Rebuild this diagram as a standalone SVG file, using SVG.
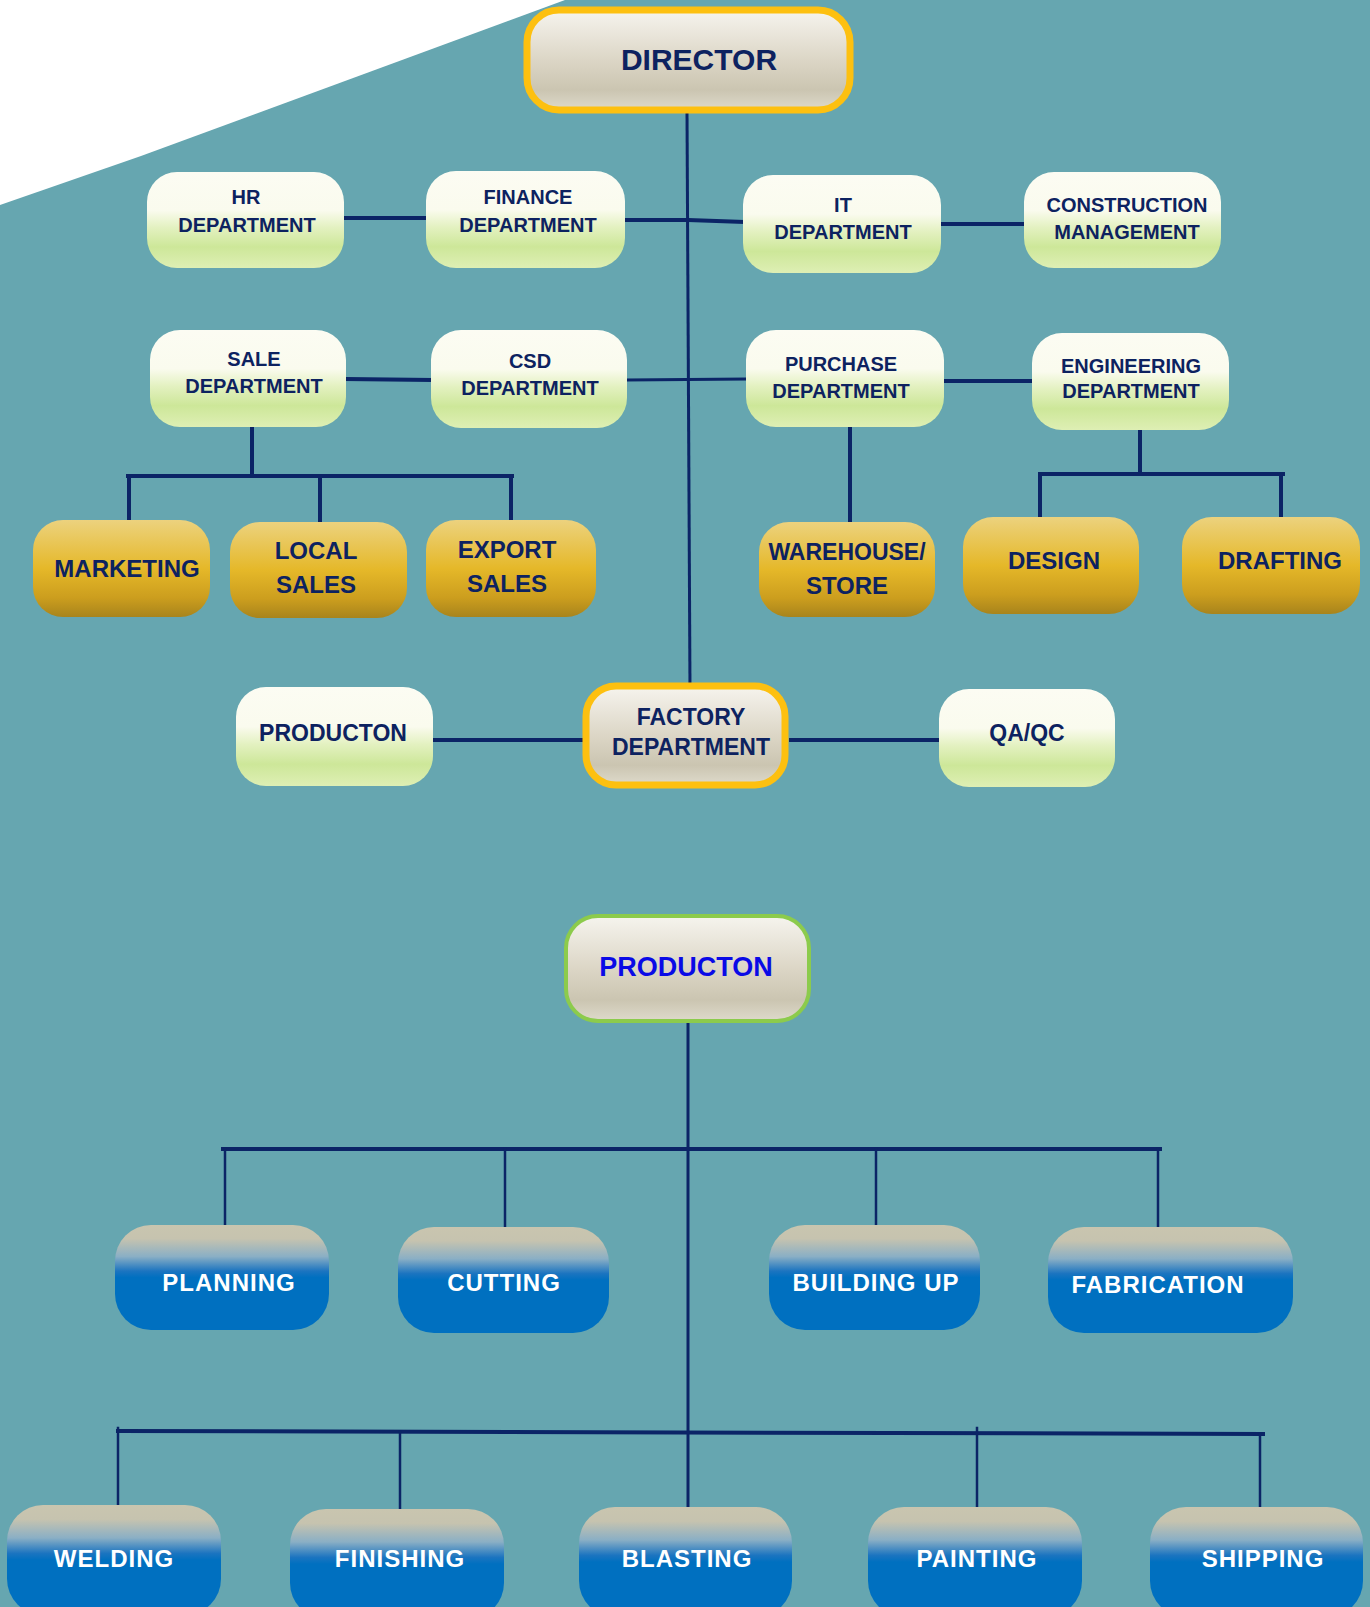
<svg xmlns="http://www.w3.org/2000/svg" width="1370" height="1607" viewBox="0 0 1370 1607">
<defs>
<linearGradient id="gDir" x1="0" y1="0" x2="0" y2="1">
<stop offset="0" stop-color="#F6F4EE"/><stop offset="0.5" stop-color="#DCD6C6"/><stop offset="0.8" stop-color="#CBC5B1"/><stop offset="1" stop-color="#DEDACB"/>
</linearGradient>
<linearGradient id="gGreen" x1="0" y1="0" x2="0" y2="1">
<stop offset="0" stop-color="#FCFCF3"/><stop offset="0.4" stop-color="#FAFBEE"/><stop offset="0.58" stop-color="#E3F1C0"/><stop offset="0.78" stop-color="#CDE799"/><stop offset="1" stop-color="#DEEFB4"/>
</linearGradient>
<linearGradient id="gGold" x1="0" y1="0" x2="0" y2="1">
<stop offset="0" stop-color="#ECD27E"/><stop offset="0.5" stop-color="#E5B829"/><stop offset="0.8" stop-color="#CC9E1E"/><stop offset="1" stop-color="#A8841C"/>
</linearGradient>
<linearGradient id="gBlue" x1="0" y1="0" x2="0" y2="1">
<stop offset="0" stop-color="#C9C5AF"/><stop offset="0.13" stop-color="#C6C3AF"/><stop offset="0.3" stop-color="#8AAFC5"/><stop offset="0.44" stop-color="#1B74C0"/><stop offset="0.5" stop-color="#0070C0"/><stop offset="1" stop-color="#0070C0"/>
</linearGradient>
</defs>
<style>
text{font-family:"Liberation Sans",Arial,sans-serif;font-weight:bold;text-anchor:middle;fill:#0D2260}
.g{fill:url(#gGreen)}
.o{fill:url(#gGold)}
.b{fill:url(#gBlue)}
.d{fill:url(#gDir);stroke:#FDC010;stroke-width:7}
.p{fill:url(#gDir);stroke:#8CCB4C;stroke-width:4}
.t20{font-size:20px}
.t24{font-size:24px}
.w{fill:#FFFFFF;font-size:24px;letter-spacing:1px}
#connectors line,#connectors polyline{stroke:#0B2466;fill:none;stroke-linecap:square}
</style>
<rect x="0" y="0" width="1370" height="1607" fill="#66A6B0"/>
<polygon points="0,0 565,0 141,156 0,205" fill="#FFFFFF"/>

<g id="connectors">
<line x1="687" y1="112" x2="690" y2="689" stroke-width="3"/>
<line x1="344" y1="218" x2="426" y2="218" stroke-width="4"/>
<polyline points="625,220 688,220 743,222" stroke-width="4"/>
<line x1="941" y1="224" x2="1024" y2="224" stroke-width="4"/>
<line x1="346" y1="379" x2="431" y2="380" stroke-width="4"/>
<line x1="627" y1="380" x2="746" y2="379" stroke-width="3"/>
<line x1="944" y1="381" x2="1032" y2="381" stroke-width="4"/>
<line x1="252" y1="427" x2="252" y2="476" stroke-width="4"/>
<line x1="128" y1="476" x2="512" y2="476" stroke-width="4"/>
<line x1="129" y1="476" x2="129" y2="522" stroke-width="4"/>
<line x1="320" y1="476" x2="320" y2="523" stroke-width="4"/>
<line x1="511" y1="476" x2="511" y2="521" stroke-width="4"/>
<line x1="850" y1="427" x2="850" y2="523" stroke-width="4"/>
<line x1="1140" y1="430" x2="1140" y2="474" stroke-width="4"/>
<line x1="1040" y1="474" x2="1283" y2="474" stroke-width="4"/>
<line x1="1040" y1="474" x2="1040" y2="518" stroke-width="4"/>
<line x1="1281" y1="474" x2="1281" y2="518" stroke-width="4"/>
<line x1="433" y1="740" x2="588" y2="740" stroke-width="4"/>
<line x1="791" y1="740" x2="939" y2="740" stroke-width="4"/>
<line x1="688" y1="1024" x2="688" y2="1507" stroke-width="3"/>
<line x1="223" y1="1149" x2="1160" y2="1149" stroke-width="4"/>
<line x1="225" y1="1149" x2="225" y2="1225" stroke-width="2.5"/>
<line x1="505" y1="1149" x2="505" y2="1227" stroke-width="2.5"/>
<line x1="876" y1="1149" x2="876" y2="1225" stroke-width="2.5"/>
<line x1="1158" y1="1149" x2="1158" y2="1227" stroke-width="2.5"/>
<line x1="118" y1="1431" x2="1263" y2="1434" stroke-width="4"/>
<line x1="118" y1="1428" x2="118" y2="1505" stroke-width="2.5"/>
<line x1="400" y1="1432" x2="400" y2="1509" stroke-width="2.5"/>
<line x1="977" y1="1428" x2="977" y2="1507" stroke-width="2.5"/>
<line x1="1260" y1="1434" x2="1260" y2="1507" stroke-width="2.5"/>
</g>

<g id="director"><rect class="d" x="527" y="10" width="323" height="100" rx="32"/><text x="699" y="70" style="font-size:30px">DIRECTOR</text></g>

<g id="hr"><rect class="g" x="147" y="172" width="197" height="96" rx="30"/><text class="t20" x="246" y="204">HR</text><text class="t20" x="247" y="232">DEPARTMENT</text></g>
<g id="finance"><rect class="g" x="426" y="171" width="199" height="97" rx="30"/><text class="t20" x="528" y="204">FINANCE</text><text class="t20" x="528" y="232">DEPARTMENT</text></g>
<g id="it"><rect class="g" x="743" y="175" width="198" height="98" rx="30"/><text class="t20" x="843" y="212">IT</text><text class="t20" x="843" y="239">DEPARTMENT</text></g>
<g id="construction"><rect class="g" x="1024" y="172" width="197" height="96" rx="30"/><text class="t20" x="1127" y="212">CONSTRUCTION</text><text class="t20" x="1127" y="239">MANAGEMENT</text></g>

<g id="sale"><rect class="g" x="150" y="330" width="196" height="97" rx="30"/><text class="t20" x="254" y="366">SALE</text><text class="t20" x="254" y="393">DEPARTMENT</text></g>
<g id="csd"><rect class="g" x="431" y="330" width="196" height="98" rx="30"/><text class="t20" x="530" y="368">CSD</text><text class="t20" x="530" y="395">DEPARTMENT</text></g>
<g id="purchase"><rect class="g" x="746" y="330" width="198" height="97" rx="30"/><text class="t20" x="841" y="371">PURCHASE</text><text class="t20" x="841" y="398">DEPARTMENT</text></g>
<g id="engineering"><rect class="g" x="1032" y="333" width="197" height="97" rx="30"/><text class="t20" x="1131" y="373">ENGINEERING</text><text class="t20" x="1131" y="398">DEPARTMENT</text></g>

<g id="marketing"><rect class="o" x="33" y="520" width="177" height="97" rx="30"/><text class="t24" x="127" y="577">MARKETING</text></g>
<g id="localsales"><rect class="o" x="230" y="522" width="177" height="96" rx="30"/><text class="t24" x="316" y="559">LOCAL</text><text class="t24" x="316" y="593">SALES</text></g>
<g id="exportsales"><rect class="o" x="426" y="520" width="170" height="97" rx="30"/><text class="t24" x="507" y="558">EXPORT</text><text class="t24" x="507" y="592">SALES</text></g>
<g id="warehouse"><rect class="o" x="759" y="522" width="176" height="95" rx="30"/><text x="847" y="560" style="font-size:23px">WAREHOUSE/</text><text class="t24" x="847" y="594">STORE</text></g>
<g id="design"><rect class="o" x="963" y="517" width="176" height="97" rx="30"/><text class="t24" x="1054" y="569">DESIGN</text></g>
<g id="drafting"><rect class="o" x="1182" y="517" width="178" height="97" rx="30"/><text class="t24" x="1280" y="569">DRAFTING</text></g>

<g id="producton1"><rect class="g" x="236" y="687" width="197" height="99" rx="30"/><text x="333" y="741" style="font-size:23px">PRODUCTON</text></g>
<g id="factory"><rect class="d" x="586" y="686" width="199" height="99" rx="30"/><text x="691" y="725" style="font-size:23px">FACTORY</text><text x="691" y="755" style="font-size:23px">DEPARTMENT</text></g>
<g id="qaqc"><rect class="g" x="939" y="689" width="176" height="98" rx="30"/><text x="1027" y="741" style="font-size:23px">QA/QC</text></g>

<g id="producton2"><rect class="p" x="566" y="916" width="243" height="105" rx="32"/><text x="686" y="976" style="font-size:27px;fill:#0A0AE6">PRODUCTON</text></g>

<g id="planning"><rect class="b" x="115" y="1225" width="214" height="105" rx="36"/><text class="w" x="229" y="1291">PLANNING</text></g>
<g id="cutting"><rect class="b" x="398" y="1227" width="211" height="106" rx="36"/><text class="w" x="504" y="1291">CUTTING</text></g>
<g id="buildingup"><rect class="b" x="769" y="1225" width="211" height="105" rx="36"/><text class="w" x="876" y="1291">BUILDING UP</text></g>
<g id="fabrication"><rect class="b" x="1048" y="1227" width="245" height="106" rx="36"/><text class="w" x="1158" y="1293">FABRICATION</text></g>

<g id="welding"><rect class="b" x="7" y="1505" width="214" height="110" rx="36"/><text class="w" x="114" y="1567">WELDING</text></g>
<g id="finishing"><rect class="b" x="290" y="1509" width="214" height="110" rx="36"/><text class="w" x="400" y="1567">FINISHING</text></g>
<g id="blasting"><rect class="b" x="579" y="1507" width="213" height="110" rx="36"/><text class="w" x="687" y="1567">BLASTING</text></g>
<g id="painting"><rect class="b" x="868" y="1507" width="214" height="110" rx="36"/><text class="w" x="977" y="1567">PAINTING</text></g>
<g id="shipping"><rect class="b" x="1150" y="1507" width="213" height="110" rx="36"/><text class="w" x="1263" y="1567">SHIPPING</text></g>
</svg>
